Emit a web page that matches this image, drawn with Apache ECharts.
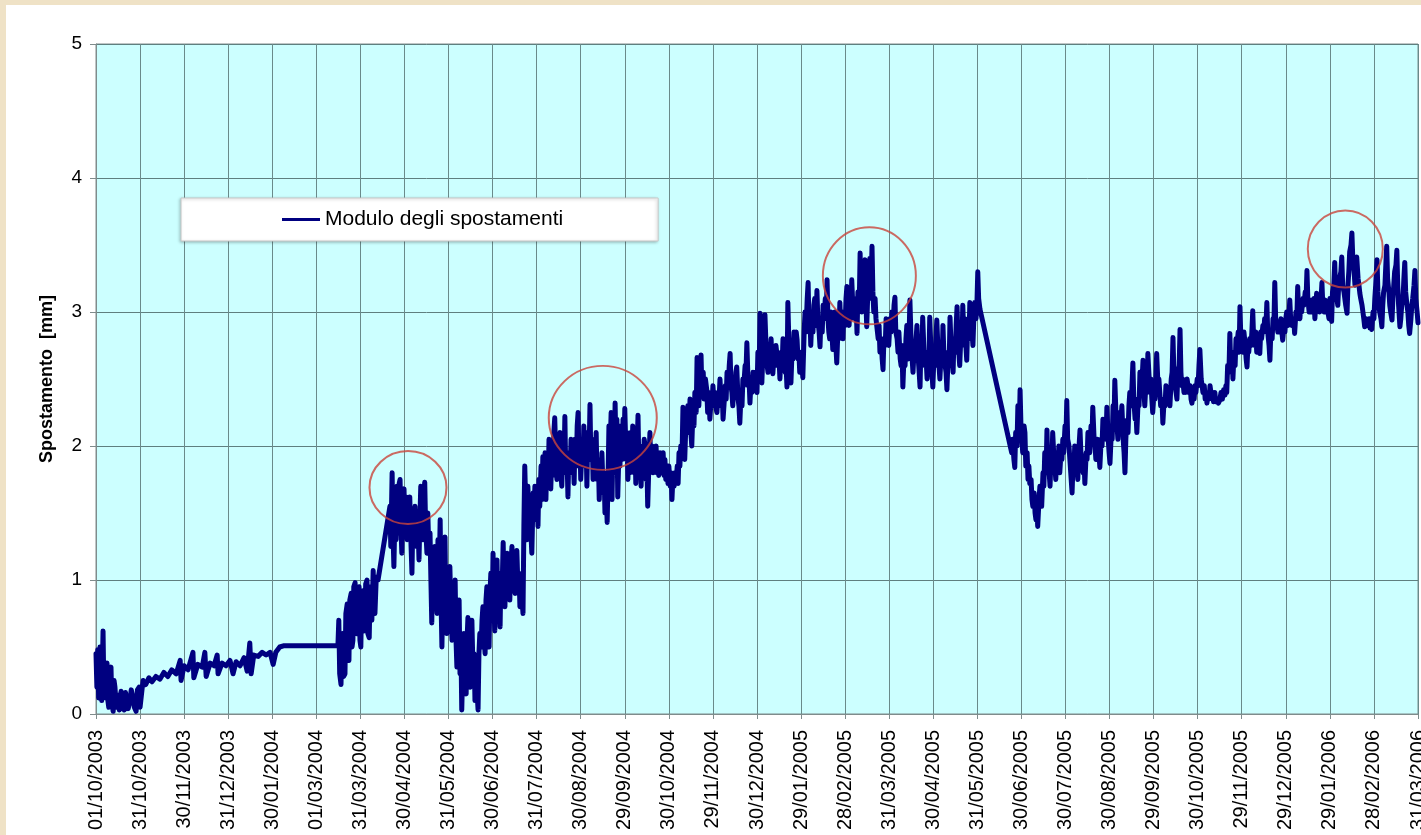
<!DOCTYPE html>
<html>
<head>
<meta charset="utf-8">
<script src="https://cdn.jsdelivr.net/npm/echarts@6/dist/echarts.min.js"></script>
<style>
  html, body { margin: 0; padding: 0; width: 1421px; height: 835px; overflow: hidden; background: #efe2c6; }
  #panel { position: absolute; left: 6px; top: 5px; right: 0; bottom: 0; background: #ffffff; }
  #chart { position: absolute; left: 0; top: 0; width: 1421px; height: 835px; }
</style>
</head>
<body>
<div id="panel"></div>
<div id="chart"></div>
<script>
// Tick labels of the date axis (one every ~30 days)
const dateLabels = [
  '01/10/2003', '31/10/2003', '30/11/2003', '31/12/2003', '30/01/2004', '01/03/2004',
  '31/03/2004', '30/04/2004', '31/05/2004', '30/06/2004', '31/07/2004', '30/08/2004',
  '29/09/2004', '30/10/2004', '29/11/2004', '30/12/2004', '29/01/2005', '28/02/2005',
  '31/03/2005', '30/04/2005', '31/05/2005', '30/06/2005', '30/07/2005', '30/08/2005',
  '29/09/2005', '30/10/2005', '29/11/2005', '29/12/2005', '29/01/2006', '28/02/2006',
  '31/03/2006'
];

const seriesName = 'Modulo degli spostamenti';
const yTitle = 'Spostamento  [mm]';

// Displacement readings: [position on date axis (tick units), displacement mm]
const modulo = [
  // Oct 2003
  [0.00,0.45],[0.02,0.20],[0.04,0.48],[0.06,0.12],[0.09,0.50],[0.11,0.25],[0.13,0.10],[0.16,0.62],
  [0.18,0.15],[0.20,0.32],[0.22,0.12],[0.25,0.38],[0.27,0.10],[0.29,0.05],[0.31,0.30],[0.34,0.35],
  [0.36,0.08],[0.39,0.02],[0.41,0.25],[0.43,0.20],[0.46,0.05],[0.50,0.14],[0.53,0.03],[0.57,0.17],
  [0.60,0.06],[0.64,0.03],[0.67,0.16],[0.70,0.15],[0.73,0.04],[0.77,0.10],[0.80,0.18],[0.84,0.12],
  [0.87,0.05],[0.91,0.02],[0.94,0.18],[0.98,0.20],[1.00,0.05],[1.02,0.04],[1.05,0.20],[1.07,0.25],
  // Nov 2003 - Feb 2004
  [1.13,0.22],[1.20,0.27],[1.27,0.24],[1.36,0.28],[1.45,0.26],[1.54,0.31],[1.63,0.28],[1.72,0.33],
  [1.82,0.30],[1.91,0.40],[1.93,0.25],[2.00,0.36],[2.09,0.33],[2.20,0.46],[2.22,0.27],[2.31,0.37],
  [2.41,0.35],[2.47,0.46],[2.50,0.28],[2.59,0.38],[2.68,0.36],[2.75,0.44],[2.77,0.30],[2.86,0.38],
  [2.95,0.36],[3.04,0.40],[3.11,0.30],[3.18,0.39],[3.27,0.36],[3.36,0.42],[3.43,0.32],[3.49,0.53],
  [3.52,0.30],[3.58,0.44],[3.68,0.43],[3.77,0.46],[3.86,0.44],[3.95,0.46],[4.02,0.37],[4.08,0.46],
  [4.17,0.50],[4.27,0.51],[5.49,0.51],
  // Mar - Jul 2004
  [5.51,0.70],[5.53,0.30],[5.56,0.22],[5.58,0.55],[5.60,0.60],[5.62,0.28],[5.65,0.30],[5.67,0.75],
  [5.70,0.82],[5.72,0.45],[5.74,0.40],[5.76,0.85],[5.79,0.90],[5.81,0.50],[5.83,0.55],[5.85,0.95],
  [5.88,0.98],[5.90,0.62],[5.92,0.60],[5.94,0.92],[5.97,0.95],[5.99,0.55],[6.01,0.50],[6.03,0.88],
  [6.06,0.92],[6.08,0.62],[6.10,0.65],[6.12,0.97],[6.15,1.00],[6.17,0.60],[6.20,0.57],[6.22,0.90],
  [6.24,0.95],[6.26,0.70],[6.29,1.07],[6.31,0.80],[6.33,0.75],[6.36,1.02],[6.40,1.00],
  [6.67,1.55],[6.69,1.25],[6.72,1.80],[6.74,1.35],[6.76,1.10],[6.79,1.60],[6.81,1.30],[6.83,1.70],
  [6.86,1.35],[6.88,1.72],[6.90,1.75],[6.92,1.40],[6.94,1.20],[6.96,1.60],[6.99,1.68],[7.01,1.35],
  [7.04,1.62],[7.06,1.30],[7.08,1.55],[7.10,1.40],[7.12,1.62],[7.15,1.25],[7.17,1.05],[7.19,1.45],
  [7.21,1.30],[7.24,1.55],[7.26,1.35],[7.28,1.25],[7.30,1.50],[7.33,1.15],[7.35,1.45],[7.37,1.70],
  [7.39,1.40],[7.42,1.30],[7.44,1.65],[7.46,1.73],[7.48,1.40],[7.51,1.20],[7.53,1.50],[7.55,1.25],
  [7.58,1.35],[7.60,1.00],[7.62,0.68],[7.64,1.20],[7.67,0.90],[7.69,1.25],[7.71,0.95],[7.74,0.75],
  [7.76,1.30],[7.78,0.90],[7.81,1.45],[7.83,0.85],[7.85,0.50],[7.88,1.15],[7.90,0.80],[7.92,1.32],
  [7.94,0.75],[7.96,0.60],[7.99,1.05],[8.01,0.70],[8.03,1.10],[8.06,0.70],[8.08,0.55],[8.10,0.95],
  [8.13,0.60],[8.15,1.00],[8.17,0.55],[8.19,0.35],[8.22,0.75],[8.24,0.85],[8.26,0.30],[8.28,0.55],
  [8.30,0.03],[8.33,0.45],[8.35,0.60],[8.37,0.20],[8.40,0.15],[8.42,0.55],[8.44,0.72],[8.46,0.30],
  [8.49,0.20],[8.51,0.60],[8.53,0.70],[8.56,0.25],[8.58,0.45],[8.60,0.10],[8.63,0.40],[8.65,0.15],
  [8.67,0.03],[8.69,0.45],[8.71,0.60],[8.74,0.50],[8.76,0.70],[8.78,0.80],[8.81,0.55],[8.83,0.45],
  [8.85,0.85],[8.87,0.95],[8.90,0.60],[8.92,0.50],[8.94,0.90],[8.96,1.05],[8.99,0.75],[9.01,1.20],
  [9.03,0.80],[9.05,0.62],[9.08,1.00],[9.10,1.15],[9.12,0.75],[9.15,0.90],[9.17,0.65],[9.19,1.05],
  [9.21,0.85],[9.24,1.28],[9.26,0.90],[9.28,0.80],[9.30,1.10],[9.33,1.20],[9.35,0.90],[9.37,1.05],
  [9.39,0.85],[9.42,1.15],[9.44,1.25],[9.46,0.95],[9.49,1.10],[9.51,0.90],[9.53,1.15],[9.55,1.22],
  [9.58,0.90],[9.60,1.05],[9.62,0.80],[9.65,1.00],[9.67,0.85],[9.69,0.75],[9.71,1.40],[9.73,1.85],
  [9.76,1.45],[9.78,1.30],[9.80,1.70],[9.83,1.45],[9.85,1.62],[9.87,1.35],[9.89,1.20],[9.92,1.65],
  [9.94,1.50],[9.96,1.70],[9.99,1.45],[10.01,1.65],[10.03,1.40],[10.05,1.75],[10.07,1.55],
  // Aug - Nov 2004
  [10.10,1.85],[10.12,1.60],[10.14,1.92],[10.17,1.70],[10.19,1.95],[10.21,1.60],[10.23,1.90],[10.26,1.72],
  [10.28,2.05],[10.30,1.80],[10.32,1.68],[10.35,2.00],[10.37,1.78],[10.39,2.10],[10.41,2.21],[10.44,1.85],
  [10.46,1.75],[10.48,2.05],[10.51,1.85],[10.53,2.10],[10.55,1.80],[10.57,1.70],[10.60,2.05],[10.62,1.85],
  [10.64,2.22],[10.66,1.80],[10.69,1.90],[10.71,1.62],[10.73,1.95],[10.76,1.80],[10.78,2.05],[10.80,1.85],
  [10.83,1.95],[10.85,1.72],[10.87,2.05],[10.90,1.85],[10.92,2.15],[10.94,2.25],[10.96,1.90],[10.98,2.05],
  [11.00,1.75],[11.03,2.00],[11.05,1.85],[11.07,2.15],[11.09,1.90],[11.12,2.05],[11.14,1.70],[11.16,2.10],
  [11.19,1.95],[11.21,2.31],[11.23,1.90],[11.26,2.05],[11.28,1.75],[11.30,2.00],[11.33,1.80],[11.35,2.10],
  [11.37,1.75],[11.40,1.90],[11.42,1.60],[11.44,1.85],[11.46,1.70],[11.48,1.95],[11.51,1.65],[11.53,1.80],
  [11.55,1.50],[11.58,1.65],[11.60,1.43],[11.62,1.75],[11.64,2.15],[11.66,1.90],[11.69,2.25],[11.71,1.60],
  [11.73,2.00],[11.76,1.80],[11.78,2.32],[11.80,1.95],[11.82,2.20],[11.84,1.62],[11.87,2.00],[11.89,1.85],
  [11.91,2.15],[11.94,1.90],[11.96,2.20],[11.98,1.95],[12.00,2.28],[12.03,1.90],[12.05,2.10],[12.07,1.75],
  [12.10,2.05],[12.12,1.80],[12.14,2.10],[12.16,1.85],[12.18,2.15],[12.21,1.80],[12.23,2.05],[12.25,1.72],
  [12.28,2.00],[12.30,2.23],[12.32,1.85],[12.35,2.00],[12.37,1.70],[12.39,1.95],[12.42,1.80],[12.44,2.05],
  [12.46,2.00],[12.48,1.75],[12.50,1.90],[12.52,1.55],[12.55,1.90],[12.57,2.10],[12.59,1.85],[12.62,2.00],
  [12.64,1.80],[12.66,1.95],[12.69,1.82],[12.71,2.00],[12.73,1.80],[12.75,1.92],[12.77,1.78],[12.80,1.95],
  [12.82,1.80],[12.85,1.90],[12.87,1.95],[12.89,1.78],[12.91,1.90],[12.93,1.75],[12.96,1.85],[12.98,1.72],
  [13.00,1.85],[13.03,1.70],[13.05,1.80],[13.07,1.60],[13.09,1.75],[13.12,1.70],[13.14,1.80],[13.16,1.72],
  [13.19,1.85],[13.21,1.72],[13.23,1.95],[13.25,1.85],[13.27,2.00],[13.30,1.95],[13.32,2.29],[13.34,2.05],
  [13.36,1.90],[13.39,2.20],[13.41,2.10],[13.43,2.30],[13.46,2.15],[13.48,2.35],[13.50,2.10],[13.52,2.00],
  [13.55,2.30],[13.57,2.15],[13.59,2.40],[13.62,2.25],[13.64,2.66],[13.66,2.40],[13.68,2.30],[13.71,2.55],
  [13.73,2.68],
  // Dec 2004 - May 2005
  [13.75,2.40],[13.78,2.55],[13.80,2.35],[13.83,2.50],[13.86,2.42],[13.88,2.25],[13.91,2.40],[13.93,2.20],
  [13.96,2.35],[13.98,2.30],[14.00,2.45],[14.03,2.30],[14.05,2.40],[14.07,2.28],[14.09,2.25],[14.12,2.40],
  [14.14,2.35],[14.16,2.50],[14.19,2.30],[14.21,2.40],[14.23,2.20],[14.26,2.35],[14.28,2.45],[14.30,2.35],
  [14.32,2.55],[14.35,2.45],[14.37,2.60],[14.39,2.69],[14.41,2.45],[14.43,2.40],[14.45,2.30],[14.48,2.50],
  [14.50,2.40],[14.52,2.55],[14.54,2.59],[14.57,2.35],[14.59,2.30],[14.61,2.17],[14.64,2.40],[14.66,2.30],
  [14.68,2.50],[14.70,2.45],[14.73,2.60],[14.75,2.55],[14.77,2.77],[14.80,2.45],[14.82,2.50],[14.84,2.32],
  [14.86,2.45],[14.89,2.40],[14.91,2.55],[14.93,2.45],[14.96,2.55],[14.98,2.45],[15.00,2.40],[15.02,2.70],
  [15.05,2.60],[15.07,2.99],[15.09,2.65],[15.11,2.47],[15.14,2.75],[15.16,2.60],[15.18,2.98],[15.21,2.70],
  [15.23,2.60],[15.25,2.55],[15.27,2.75],[15.30,2.65],[15.32,2.80],[15.34,2.60],[15.36,2.54],[15.39,2.70],
  [15.41,2.60],[15.43,2.75],[15.45,2.75],[15.48,2.60],[15.50,2.65],[15.52,2.50],[15.55,2.70],[15.57,2.60],
  [15.59,2.80],[15.61,2.80],[15.64,2.55],[15.66,2.60],[15.68,2.44],[15.70,3.07],[15.73,2.70],[15.75,2.60],
  [15.77,2.47],[15.80,2.75],[15.82,2.65],[15.84,2.85],[15.86,2.70],[15.89,2.85],[15.91,2.79],[15.93,2.65],
  [15.95,2.70],[15.97,2.55],[16.00,2.70],[16.02,2.60],[16.04,2.51],[16.07,2.85],[16.09,3.00],[16.11,2.85],
  [16.14,3.10],[16.16,3.22],[16.18,2.90],[16.20,3.00],[16.22,2.75],[16.25,3.00],[16.27,2.85],[16.29,3.05],
  [16.31,3.10],[16.34,2.90],[16.36,3.16],[16.38,2.95],[16.41,2.85],[16.43,2.74],[16.45,2.95],[16.48,2.85],
  [16.50,3.05],[16.52,2.95],[16.55,3.10],[16.57,2.95],[16.59,3.24],[16.61,2.95],[16.63,2.85],[16.65,2.80],
  [16.68,3.00],[16.70,2.85],[16.72,2.72],[16.75,2.90],[16.77,3.00],[16.79,2.75],[16.81,2.62],[16.84,2.90],
  [16.86,2.80],[16.88,3.07],[16.90,2.90],[16.93,2.95],[16.95,2.80],[16.97,3.00],[17.00,2.90],[17.02,3.10],
  [17.04,3.19],[17.06,2.95],[17.09,2.90],[17.11,3.05],[17.13,2.95],[17.15,3.24],[17.18,3.00],[17.20,3.10],
  [17.22,2.95],[17.25,3.05],[17.27,2.84],[17.29,3.15],[17.32,3.05],[17.34,3.44],[17.36,3.10],[17.38,3.00],
  [17.41,3.25],[17.43,3.10],[17.45,3.39],[17.47,3.10],[17.49,2.89],[17.52,3.20],[17.54,3.10],[17.56,3.40],
  [17.59,3.20],[17.61,3.49],[17.63,3.15],[17.65,3.00],[17.68,3.10],[17.70,2.95],[17.72,2.96],[17.75,2.80],
  [17.77,2.90],[17.79,2.70],[17.82,2.80],[17.84,2.65],[17.86,2.57],[17.88,2.80],[17.91,2.75],[17.93,2.95],
  [17.95,2.80],[17.97,2.90],[17.99,2.75],[18.02,2.95],[18.04,2.85],[18.06,3.00],[18.09,2.90],[18.11,3.05],
  [18.13,3.11],[18.15,2.85],[18.18,2.80],[18.20,2.70],[18.22,2.85],[18.25,2.65],[18.27,2.60],[18.29,2.75],
  [18.31,2.44],[18.34,2.70],[18.36,2.60],[18.38,2.80],[18.40,2.90],[18.43,2.65],[18.45,2.80],[18.47,3.09],
  [18.50,2.75],[18.52,2.65],[18.54,2.55],[18.57,2.75],[18.59,2.65],[18.61,2.80],[18.63,2.90],[18.66,2.65],
  [18.68,2.55],[18.70,2.44],[18.72,2.75],[18.74,2.65],[18.76,2.96],[18.79,2.70],[18.81,2.60],[18.83,2.70],
  [18.86,2.50],[18.88,2.70],[18.90,2.60],[18.92,2.96],[18.95,2.70],[18.97,2.55],[18.99,2.44],[19.02,2.70],
  [19.04,2.60],[19.06,2.80],[19.08,2.94],[19.11,2.70],[19.13,2.60],[19.15,2.50],[19.18,2.70],[19.20,2.60],
  [19.22,2.90],[19.24,2.70],[19.27,2.60],[19.29,2.55],[19.31,2.42],[19.34,2.70],[19.36,2.60],[19.38,2.96],
  [19.41,2.70],[19.43,2.65],[19.45,2.55],[19.47,2.80],[19.50,2.70],[19.52,2.90],[19.54,3.04],[19.56,2.80],
  [19.58,2.70],[19.60,2.60],[19.63,2.85],[19.65,2.75],[19.67,3.05],[19.69,2.85],[19.72,2.95],[19.74,2.75],
  [19.76,2.64],[19.78,2.90],[19.81,2.80],[19.83,3.07],[19.85,2.90],[19.88,2.85],[19.90,2.75],[19.92,2.95],
  [19.94,3.07],[19.97,2.95],[19.99,3.05],[20.01,3.30],[20.03,3.10],[20.06,3.02],
  // Jun 2005 - Mar 2006
  [20.78,1.95],[20.80,2.05],[20.83,1.90],[20.85,1.84],[20.87,2.10],[20.90,2.00],[20.92,2.30],[20.95,2.10],
  [20.97,2.42],[20.99,2.15],[21.01,2.05],[21.03,1.95],[21.06,2.15],[21.08,2.10],[21.10,1.85],[21.13,1.95],
  [21.15,1.75],[21.17,1.85],[21.19,1.72],[21.22,1.75],[21.24,1.60],[21.26,1.55],[21.29,1.65],[21.31,1.50],
  [21.33,1.45],[21.35,1.55],[21.37,1.40],[21.40,1.60],[21.42,1.70],[21.44,1.60],[21.46,1.55],[21.49,1.80],
  [21.51,1.70],[21.53,1.95],[21.56,1.80],[21.58,2.12],[21.60,1.85],[21.63,1.80],[21.65,1.70],[21.67,1.90],
  [21.69,1.85],[21.71,2.10],[21.74,1.90],[21.76,1.85],[21.78,1.75],[21.81,1.95],[21.83,1.85],[21.85,2.00],
  [21.87,1.80],[21.90,1.95],[21.92,1.90],[21.94,2.05],[21.96,1.95],[21.99,2.15],[22.01,2.05],[22.03,2.34],
  [22.05,2.05],[22.08,2.00],[22.10,1.90],[22.12,1.80],[22.15,1.65],[22.17,1.85],[22.19,1.80],[22.21,2.00],
  [22.24,1.90],[22.26,1.85],[22.28,1.75],[22.30,1.95],[22.33,2.12],[22.35,1.95],[22.37,1.90],[22.40,1.80],
  [22.42,1.90],[22.44,1.72],[22.47,1.95],[22.49,1.90],[22.51,2.10],[22.53,2.00],[22.55,1.95],[22.58,2.15],
  [22.60,2.05],[22.62,2.29],[22.65,2.05],[22.67,2.00],[22.69,1.90],[22.72,2.05],[22.74,2.00],[22.76,1.95],
  [22.78,1.84],[22.81,2.05],[22.83,2.00],[22.85,2.20],[22.88,2.10],[22.90,2.15],[22.92,2.05],[22.94,2.29],
  [22.97,2.05],[22.99,1.95],[23.01,1.87],[23.04,2.10],[23.06,2.05],[23.08,2.30],[23.10,2.15],[23.12,2.49],
  [23.15,2.20],[23.17,2.15],[23.19,2.05],[23.22,2.25],[23.24,2.10],[23.26,2.20],[23.28,2.30],[23.31,2.05],
  [23.33,1.95],[23.35,1.80],[23.37,2.05],[23.39,2.19],[23.42,2.10],[23.44,2.30],[23.46,2.40],[23.49,2.30],
  [23.51,2.45],[23.53,2.62],[23.55,2.35],[23.58,2.20],[23.60,2.25],[23.62,2.10],[23.65,2.35],[23.67,2.30],
  [23.69,2.55],[23.71,2.40],[23.74,2.50],[23.76,2.64],[23.78,2.40],[23.80,2.30],[23.83,2.50],[23.85,2.40],
  [23.87,2.69],[23.90,2.50],[23.92,2.40],[23.94,2.50],[23.96,2.35],[23.98,2.25],[24.01,2.40],[24.03,2.35],
  [24.05,2.50],[24.07,2.69],[24.10,2.45],[24.12,2.50],[24.14,2.40],[24.16,2.30],[24.19,2.35],[24.21,2.17],
  [24.24,2.35],[24.26,2.30],[24.28,2.45],[24.30,2.40],[24.32,2.35],[24.35,2.40],[24.37,2.30],[24.40,2.50],
  [24.42,2.55],[24.44,2.81],[24.46,2.55],[24.49,2.45],[24.51,2.40],[24.53,2.35],[24.55,2.55],[24.58,2.60],
  [24.60,2.87],[24.62,2.55],[24.64,2.45],[24.66,2.50],[24.69,2.40],[24.71,2.44],[24.73,2.40],[24.76,2.50],
  [24.78,2.45],[24.80,2.40],[24.83,2.45],[24.85,2.35],[24.87,2.32],[24.90,2.40],[24.92,2.35],[24.94,2.45],
  [24.96,2.40],[24.99,2.50],[25.01,2.45],[25.03,2.60],[25.05,2.72],[25.08,2.50],[25.10,2.45],[25.12,2.40],
  [25.15,2.45],[25.17,2.35],[25.19,2.40],[25.21,2.32],[25.24,2.40],[25.26,2.35],[25.28,2.45],[25.31,2.38],
  [25.34,2.40],[25.36,2.33],[25.39,2.40],[25.41,2.33],[25.44,2.35],[25.47,2.32],[25.50,2.34],[25.53,2.40],
  [25.56,2.35],[25.59,2.42],[25.62,2.38],[25.64,2.45],[25.66,2.40],[25.68,2.60],[25.71,2.55],[25.73,2.84],
  [25.75,2.60],[25.78,2.70],[25.80,2.50],[25.82,2.65],[25.85,2.60],[25.87,2.80],[25.89,2.75],[25.92,2.85],
  [25.94,2.70],[25.96,3.04],[25.98,2.80],[26.01,2.75],[26.03,2.70],[26.05,2.85],[26.08,2.75],[26.10,2.65],
  [26.12,2.59],[26.14,2.75],[26.16,2.70],[26.18,2.80],[26.21,2.75],[26.23,2.85],[26.25,3.01],[26.27,2.80],
  [26.30,2.75],[26.32,2.85],[26.34,2.70],[26.36,2.80],[26.38,2.75],[26.41,2.69],[26.43,2.85],[26.45,2.80],
  [26.48,2.90],[26.50,2.85],[26.52,2.95],[26.55,2.90],[26.57,3.07],[26.59,2.85],[26.62,2.75],[26.64,2.64],
  [26.66,2.85],[26.69,2.80],[26.71,2.95],[26.73,2.90],[26.75,3.22],[26.77,2.95],[26.80,2.90],[26.82,2.85],
  [26.84,2.90],[26.87,2.85],[26.89,2.95],[26.91,2.85],[26.93,2.79],[26.96,2.90],[26.98,2.85],[27.00,2.95],
  [27.02,3.00],[27.05,2.90],[27.07,2.95],[27.09,3.09],[27.11,2.95],[27.14,2.90],[27.16,2.90],[27.18,2.95],
  [27.20,2.84],[27.23,3.00],[27.25,2.95],[27.27,3.19],[27.29,3.00],[27.32,2.95],[27.34,3.05],[27.36,3.00],
  [27.39,3.10],[27.41,3.05],[27.44,3.15],[27.46,3.10],[27.48,3.31],[27.50,3.10],[27.53,3.00],[27.55,3.05],
  [27.57,3.00],[27.59,3.09],[27.62,3.05],[27.64,3.10],[27.66,2.95],[27.68,3.05],[27.70,3.14],[27.73,3.05],
  [27.75,3.10],[27.77,3.00],[27.80,3.10],[27.82,3.22],[27.84,3.05],[27.87,3.00],[27.89,3.09],[27.91,3.00],
  [27.93,3.05],[27.95,3.05],[27.98,2.95],[28.00,3.10],[28.02,3.00],[28.04,2.93],[28.06,3.15],[28.09,3.20],
  [28.11,3.37],[28.13,3.15],[28.16,3.10],[28.18,3.05],[28.20,3.20],[28.22,3.25],[28.25,3.30],[28.27,3.41],
  [28.29,3.20],[28.32,3.15],[28.34,3.10],[28.36,3.05],[28.39,2.99],[28.41,3.20],[28.43,3.30],[28.45,3.45],
  [28.48,3.50],[28.50,3.59],[28.52,3.40],[28.55,3.30],[28.57,3.20],[28.59,3.30],[28.61,3.41],[28.64,3.25],
  [28.66,3.20],[28.68,3.14],[28.70,3.10],[28.73,3.05],[28.75,3.00],[28.77,2.95],[28.79,2.89],[28.82,2.95],
  [28.84,2.90],[28.86,2.90],[28.89,2.95],[28.91,2.88],[28.93,2.92],[28.95,2.87],[28.98,3.00],[29.00,2.95],
  [29.02,3.10],[29.04,3.20],[29.07,3.39],[29.09,3.15],[29.11,3.05],[29.13,3.00],[29.16,2.95],[29.18,2.89],
  [29.20,3.05],[29.22,3.15],[29.25,3.20],[29.27,3.35],[29.29,3.49],[29.31,3.25],[29.34,3.15],[29.36,3.05],
  [29.38,3.00],[29.41,2.94],[29.43,3.10],[29.45,3.20],[29.47,3.30],[29.50,3.35],[29.52,3.46],[29.54,3.20],
  [29.56,3.05],[29.59,2.89],[29.61,2.95],[29.63,3.05],[29.66,3.10],[29.68,3.25],[29.70,3.37],[29.72,3.15],
  [29.75,3.05],[29.77,3.00],[29.79,2.90],[29.81,2.84],[29.84,2.95],[29.86,3.05],[29.88,3.10],[29.91,3.20],
  [29.93,3.31],[29.95,3.10],[29.98,3.00],[30.00,2.92]
];

// Peaks marked with a ring: [position on date axis, displacement mm]
const highlightedPeaks = [[7.08, 1.69], [11.50, 2.21], [17.55, 3.27], [28.35, 3.47]];

const FONT = '"Liberation Sans", Arial, sans-serif';
const ringSize = [[77, 73], [108, 104], [93, 97], [75, 77]];

const chart = echarts.init(document.getElementById('chart'), null, { renderer: 'canvas' });
chart.setOption({
  animation: false,
  backgroundColor: 'transparent',
  grid: {
    left: 96, right: 3, top: 44, bottom: 121,
    containLabel: false, outerBoundsMode: 'none',
    show: true, backgroundColor: '#ccffff', borderColor: '#7f8c8c', borderWidth: 1
  },
  legend: {
    data: [seriesName],
    left: 181, top: 198,
    padding: [11, 95, 11, 101],
    backgroundColor: '#ffffff',
    borderColor: '#c8c8c8', borderWidth: 1,
    shadowColor: 'rgba(0,0,0,0.25)', shadowBlur: 3, shadowOffsetX: -1, shadowOffsetY: 1,
    icon: 'rect', itemWidth: 38, itemHeight: 3, itemGap: 5,
    textStyle: { fontFamily: FONT, fontSize: 21, color: '#000' }
  },
  xAxis: {
    type: 'value', min: 0, max: 30, interval: 1,
    axisLine: { show: true, onZero: false, lineStyle: { color: '#7f8c8c', width: 1 } },
    axisTick: { show: true, length: 5, lineStyle: { color: '#7f8c8c' } },
    splitLine: { show: true, lineStyle: { color: '#6a8a8a', width: 1 } },
    axisLabel: {
      rotate: 90, margin: 16, fontFamily: FONT, fontSize: 20, color: '#000',
      showMinLabel: true, showMaxLabel: true, hideOverlap: false,
      formatter: v => dateLabels[Math.round(v)] || ''
    }
  },
  yAxis: {
    type: 'value', min: 0, max: 5, interval: 1,
    name: yTitle, nameLocation: 'middle', nameRotate: 90, nameGap: 40,
    nameTextStyle: { fontFamily: FONT, fontSize: 18, fontWeight: 'bold', color: '#000' },
    axisLine: { show: true, lineStyle: { color: '#7f8c8c', width: 1 } },
    axisTick: { show: true, length: 6, lineStyle: { color: '#7f8c8c' } },
    splitLine: { show: true, lineStyle: { color: '#5f7f7f', width: 1 } },
    axisLabel: { margin: 14, fontFamily: FONT, fontSize: 19, color: '#000' }
  },
  series: [
    {
      name: seriesName, type: 'line', data: modulo,
      showSymbol: false, symbol: 'none',
      lineStyle: { color: '#000080', width: 5, join: 'round', cap: 'round' },
      itemStyle: { color: '#000080' },
      z: 3
    },
    {
      name: 'rings', type: 'scatter', data: highlightedPeaks,
      symbol: 'circle',
      symbolSize: (val, params) => ringSize[params.dataIndex],
      itemStyle: { color: 'rgba(0,0,0,0)', borderColor: '#c9453b', borderWidth: 2 },
      silent: true, z: 4
    }
  ]
});
</script>
</body>
</html>
